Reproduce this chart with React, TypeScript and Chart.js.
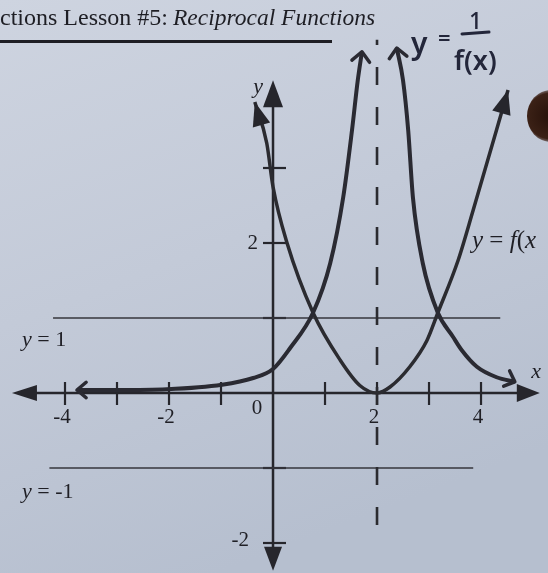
import { useEffect, useRef } from "react";
import { Chart, registerables } from "chart.js";

Chart.register(...registerables);

// y = f(x): points along the printed parabola (vertex at x = 2)
const fX = [-0.35, -0.12, 0, 0.27, 0.77, 1.29, 1.67, 2, 2.25, 2.63, 2.96, 3.17, 3.56, 3.85, 4.52];
const fY = [3.88, 3.33, 2.75, 2.0, 1.07, 0.44, 0.1, 0, 0.08, 0.35, 0.7, 1.07, 1.77, 2.44, 4.04];

// y = 1 / f(x): left and right branches around the asymptote x = 2
const recipLeftX = [-3.77, -3.0, -2.04, -0.98, -0.38, 0, 0.33, 0.77, 1.1, 1.35, 1.52, 1.63, 1.71];
const recipLeftY = [0.04, 0.04, 0.05, 0.11, 0.2, 0.32, 0.6, 1.07, 1.73, 2.61, 3.51, 4.17, 4.55];
const recipRightX = [2.38, 2.5, 2.6, 2.69, 2.88, 3.17, 3.46, 3.63, 3.92, 4.3, 4.65];
const recipRightY = [4.6, 4.17, 3.5, 2.61, 1.73, 1.07, 0.75, 0.57, 0.35, 0.21, 0.15];

// reference lines
const asymptoteX = 2;
const asymptoteSpan = [-1.76, 4.71];
const lineOneSpan = [-4.23, 4.37]; // y = 1
const lineMinusOneSpan = [-4.3, 3.85]; // y = -1

// axes and ticks
const xRange = [-5.25, 5.288];
const yRange = [-2.4, 5.24];
const xAxisSpan = [-5.02, 5.13];
const yAxisSpan = [-2.37, 4.17];
const xTicks = [-4, -3, -2, -1, 1, 2, 3, 4];
const xTickLabels = [-4, -2, 2, 4];
const yTicks = [3, 2, 1, -1, -2];
const yTickLabels = [2, -2];

const INK = "#26262c";
const SERIF = '"Liberation Serif", "DejaVu Serif", serif';
const HAND = '"Noto Sans", "DejaVu Sans", sans-serif';

type Pt = { x: number; y: number };

function filledArrow(ctx: CanvasRenderingContext2D, tip: Pt, from: Pt, len: number, half: number) {
  const a = Math.atan2(tip.y - from.y, tip.x - from.x);
  const bx = tip.x - len * Math.cos(a);
  const by = tip.y - len * Math.sin(a);
  ctx.beginPath();
  ctx.moveTo(tip.x, tip.y);
  ctx.lineTo(bx + half * Math.sin(a), by - half * Math.cos(a));
  ctx.lineTo(bx - half * Math.sin(a), by + half * Math.cos(a));
  ctx.closePath();
  ctx.fill();
}

function openArrow(ctx: CanvasRenderingContext2D, tip: Pt, from: Pt, len: number, spread: number) {
  const a = Math.atan2(tip.y - from.y, tip.x - from.x);
  ctx.beginPath();
  ctx.moveTo(tip.x - len * Math.cos(a - spread), tip.y - len * Math.sin(a - spread));
  ctx.lineTo(tip.x, tip.y);
  ctx.lineTo(tip.x - len * Math.cos(a + spread), tip.y - len * Math.sin(a + spread));
  ctx.stroke();
}

function mathText(
  ctx: CanvasRenderingContext2D,
  parts: { t: string; it?: boolean }[],
  x: number,
  y: number,
  size: number
) {
  let cx = x;
  for (const p of parts) {
    ctx.font = `${p.it ? "italic " : ""}${size}px ${SERIF}`;
    ctx.fillText(p.t, cx, y);
    cx += ctx.measureText(p.t).width;
  }
}

const pts = (xs: number[], ys: number[]) => xs.map((x, i) => ({ x, y: ys[i] }));

const paperPlugin = {
  id: "paper",
  beforeDraw(chart: any) {
    const { ctx, width, height } = chart;
    ctx.save();
    const g = ctx.createLinearGradient(0, 0, width * 0.4, height);
    g.addColorStop(0, "#ced4e0");
    g.addColorStop(0.5, "#c3cad8");
    g.addColorStop(1, "#b6bfcf");
    ctx.fillStyle = g;
    ctx.fillRect(0, 0, width, height);

    // dark spot at the right edge of the page
    const rg = ctx.createRadialGradient(550, 116, 4, 550, 116, 26);
    rg.addColorStop(0, "#2a140c");
    rg.addColorStop(0.85, "#3b2116");
    rg.addColorStop(1, "rgba(70,45,35,0.6)");
    ctx.fillStyle = rg;
    ctx.beginPath();
    ctx.ellipse(551, 116, 24, 26, 0, 0, Math.PI * 2);
    ctx.fill();

    // page heading
    ctx.fillStyle = "#1e1e24";
    ctx.textBaseline = "alphabetic";
    ctx.textAlign = "left";
    ctx.font = `24px ${SERIF}`;
    ctx.fillText("ctions Lesson #5:", 0, 25);
    ctx.font = `italic 23.5px ${SERIF}`;
    ctx.fillText("Reciprocal Functions", 173, 25);
    ctx.fillRect(0, 40, 332, 3);

    // handwritten y = 1/f(x)
    ctx.fillStyle = "#23263a";
    ctx.strokeStyle = "#23263a";
    ctx.font = `600 30px ${HAND}`;
    ctx.fillText("y", 411, 54);
    ctx.font = `600 22px ${HAND}`;
    ctx.fillText("=", 438, 46);
    ctx.font = `500 23px ${HAND}`;
    ctx.fillText("1", 469, 29);
    ctx.lineWidth = 3;
    ctx.lineCap = "round";
    ctx.beginPath();
    ctx.moveTo(462, 34);
    ctx.lineTo(489, 32);
    ctx.stroke();
    ctx.font = `600 27px ${HAND}`;
    ctx.fillText("f(x)", 454, 70);
    ctx.restore();
  },
  beforeDatasetsDraw(chart: any) {
    const { ctx } = chart;
    const sx = chart.scales.x;
    const sy = chart.scales.y;
    const ax = sx.getPixelForValue(0);
    const ay = sy.getPixelForValue(0);
    ctx.save();
    ctx.strokeStyle = INK;
    ctx.fillStyle = INK;
    ctx.lineWidth = 2.5;

    // x axis with arrows
    const xl = sx.getPixelForValue(xAxisSpan[0]);
    const xr = sx.getPixelForValue(xAxisSpan[1]);
    ctx.beginPath();
    ctx.moveTo(xl + 10, ay);
    ctx.lineTo(xr - 10, ay);
    ctx.stroke();
    filledArrow(ctx, { x: xl, y: ay }, { x: xl + 10, y: ay }, 25, 8);
    filledArrow(ctx, { x: xr, y: ay }, { x: xr - 10, y: ay }, 23, 9);

    // y axis with arrows
    const yt = sy.getPixelForValue(yAxisSpan[1]);
    const yb = sy.getPixelForValue(yAxisSpan[0]);
    ctx.beginPath();
    ctx.moveTo(ax, yt + 10);
    ctx.lineTo(ax, yb - 10);
    ctx.stroke();
    filledArrow(ctx, { x: ax, y: yt }, { x: ax, y: yt + 10 }, 27, 10);
    filledArrow(ctx, { x: ax, y: yb }, { x: ax, y: yb - 10 }, 24, 9);

    // tick marks
    ctx.lineWidth = 2.2;
    for (const v of xTicks) {
      const p = sx.getPixelForValue(v);
      ctx.beginPath();
      ctx.moveTo(p, ay - 11);
      ctx.lineTo(p, ay + 12);
      ctx.stroke();
    }
    for (const v of yTicks) {
      const p = sy.getPixelForValue(v);
      ctx.beginPath();
      ctx.moveTo(ax - 10, p);
      ctx.lineTo(ax + 13, p);
      ctx.stroke();
    }

    // tick labels
    ctx.fillStyle = "#1f1f25";
    ctx.textBaseline = "middle";
    ctx.textAlign = "center";
    ctx.font = `21px ${SERIF}`;
    for (const v of xTickLabels) {
      ctx.fillText(String(v), sx.getPixelForValue(v) - 3, ay + 24);
    }
    ctx.fillText("0", ax - 16, ay + 15);
    ctx.textAlign = "right";
    for (const v of yTickLabels) {
      ctx.fillText(String(v), ax - (v < 0 ? 24 : 15), sy.getPixelForValue(v) - (v < 0 ? 3 : 0));
    }

    // axis names
    ctx.textAlign = "center";
    ctx.font = `italic 22px ${SERIF}`;
    ctx.fillText("x", sx.getPixelForValue(5.06), ay - 21);
    ctx.fillText("y", ax - 15, yt + 7);

    // line labels
    ctx.textAlign = "left";
    mathText(ctx, [{ t: "y", it: true }, { t: " = 1" }], 22, sy.getPixelForValue(1) + 22, 22);
    mathText(ctx, [{ t: "y", it: true }, { t: " = -1" }], 22, sy.getPixelForValue(-1) + 24, 22);
    mathText(
      ctx,
      [{ t: "y", it: true }, { t: " = " }, { t: "f", it: true }, { t: "(" }, { t: "x", it: true }],
      472,
      sy.getPixelForValue(2.02),
      25
    );
    ctx.restore();
  },
  afterDatasetsDraw(chart: any) {
    const { ctx } = chart;
    const sx = chart.scales.x;
    const sy = chart.scales.y;
    const P = (x: number, y: number) => ({ x: sx.getPixelForValue(x), y: sy.getPixelForValue(y) });
    ctx.save();
    ctx.fillStyle = INK;
    ctx.strokeStyle = "#2a2a32";

    // printed arrowheads on f(x)
    const n = fX.length;
    filledArrow(ctx, P(fX[0], fY[0]), P(fX[1], fY[1]), 24, 9);
    filledArrow(ctx, P(fX[n - 1], fY[n - 1]), P(fX[n - 2], fY[n - 2]), 24, 9.5);

    // hand-drawn arrowheads on 1/f(x)
    ctx.lineWidth = 3.5;
    ctx.lineCap = "round";
    ctx.lineJoin = "round";
    const l = recipLeftX.length;
    const r = recipRightX.length;
    openArrow(ctx, P(recipLeftX[l - 1], recipLeftY[l - 1]), P(recipLeftX[l - 3], recipLeftY[l - 3]), 13, 0.75);
    openArrow(ctx, P(recipRightX[0], recipRightY[0]), P(recipRightX[2], recipRightY[2]), 13, 0.75);
    openArrow(ctx, P(recipLeftX[0], recipLeftY[0]), P(recipLeftX[1], recipLeftY[1]), 12, 0.7);
    openArrow(ctx, P(recipRightX[r - 1], recipRightY[r - 1]), P(recipRightX[r - 3], recipRightY[r - 3]), 12, 0.75);
    ctx.restore();
  },
};

export default function App() {
  const ref = useRef<HTMLCanvasElement | null>(null);

  useEffect(() => {
    if (!ref.current) return;
    const curve = { pointRadius: 0, showLine: true, fill: false, cubicInterpolationMode: "monotone" as const };
    const chart = new Chart(ref.current, {
      type: "scatter",
      data: {
        datasets: [
          {
            label: "1/f(x) left",
            data: pts(recipLeftX, recipLeftY),
            borderColor: "#2a2a32",
            borderWidth: 4,
            ...curve,
          },
          {
            label: "1/f(x) right",
            data: pts(recipRightX, recipRightY),
            borderColor: "#2a2a32",
            borderWidth: 4,
            ...curve,
          },
          {
            label: "f(x)",
            data: pts(fX, fY),
            borderColor: "#2b2b30",
            borderWidth: 3.5,
            ...curve,
          },
          {
            label: "x = 2",
            data: asymptoteSpan.map((y) => ({ x: asymptoteX, y })),
            borderColor: "#2b2b30",
            borderWidth: 2.6,
            borderDash: [18, 22],
            pointRadius: 0,
            showLine: true,
          },
          {
            label: "y = 1",
            data: lineOneSpan.map((x) => ({ x, y: 1 })),
            borderColor: "#36363c",
            borderWidth: 1.6,
            pointRadius: 0,
            showLine: true,
          },
          {
            label: "y = -1",
            data: lineMinusOneSpan.map((x) => ({ x, y: -1 })),
            borderColor: "#36363c",
            borderWidth: 1.6,
            pointRadius: 0,
            showLine: true,
          },
        ],
      },
      options: {
        animation: false,
        responsive: false,
        devicePixelRatio: 1,
        layout: { padding: 0 },
        scales: {
          x: { type: "linear", min: xRange[0], max: xRange[1], display: false },
          y: { type: "linear", min: yRange[0], max: yRange[1], display: false },
        },
        plugins: {
          legend: { display: false },
          tooltip: { enabled: false },
          title: { display: false },
        },
        events: [],
      },
      plugins: [paperPlugin],
    });
    return () => chart.destroy();
  }, []);

  return (
    <div style={{ position: "fixed", left: 0, top: 0, width: 548, height: 573, overflow: "hidden" }}>
      <canvas ref={ref} width={548} height={573} style={{ display: "block" }} />
    </div>
  );
}
